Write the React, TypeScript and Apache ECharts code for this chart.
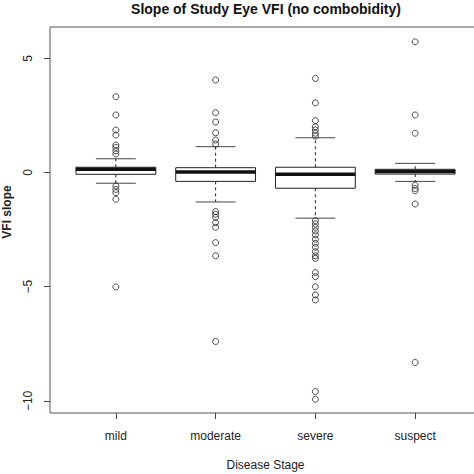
import { useEffect, useRef } from "react";
import * as echarts from "echarts";

const categories = ["mild", "moderate", "severe", "suspect"];
const lowerWhisker = [-0.47, -1.29, -2.0, -0.39];
const q1 = [-0.08, -0.39, -0.69, -0.07];
const median = [0.14, 0.02, -0.08, 0.04];
const q3 = [0.23, 0.21, 0.23, 0.14];
const upperWhisker = [0.6, 1.13, 1.52, 0.4];

const mildOutliers = [3.32, 2.52, 1.86, 1.64, 1.2, 1.1, 0.95, 0.81, -0.59, -0.74, -0.88, -1.17, -5.01];
const moderateOutliers = [4.05, 2.62, 2.21, 1.74, 1.42, 1.25, -1.71, -1.83, -1.96, -2.2, -2.4, -3.07, -3.65, -7.4];
const severeOutliers = [
  4.12, 3.05, 2.27, 2.0, 1.86, 1.72, 1.6, -2.11, -2.25, -2.4, -2.56, -2.73, -2.92, -3.1, -3.27, -3.47,
  -3.65, -3.76, -4.38, -4.56, -5.0, -5.36, -5.58, -9.59, -9.93,
];
const suspectOutliers = [5.72, 2.52, 1.72, -0.55, -0.7, -0.8, -1.38, -8.32];

const yTicks = [-10, -5, 0, 5];
const xTicks = [1, 2, 3, 4];

const FONT = "'Liberation Sans', Arial, sans-serif";
// R pads the x range 0.5..4.5 by 4%; the right side of the frame falls outside the picture
const X_MIN = 0.34;
const X_MAX = 4.66;

export default function App() {
  const chartRef = useRef<HTMLDivElement>(null);

  useEffect(() => {
    if (!chartRef.current) return;
    const chart = echarts.init(chartRef.current, undefined, { renderer: "svg" });

    // box stats: [x, low, q1, median, q3, high]
    const boxData = categories.map((_, i) => [
      i + 1,
      lowerWhisker[i],
      q1[i],
      median[i],
      q3[i],
      upperWhisker[i],
    ]);

    const outlierData: number[][] = [];
    [mildOutliers, moderateOutliers, severeOutliers, suspectOutliers].forEach((list, i) => {
      list.forEach((v) => outlierData.push([i + 1, v]));
    });

    const renderBox = (params: any, api: any) => {
      const x = api.value(0);
      const pLow = api.coord([x, api.value(1)]);
      const pQ1 = api.coord([x, api.value(2)]);
      const pMed = api.coord([x, api.value(3)]);
      const pQ3 = api.coord([x, api.value(4)]);
      const pHigh = api.coord([x, api.value(5)]);
      const half = api.size([0.8, 0])[0] / 2;
      const cap = half / 2;
      const cx = pMed[0];
      const stroke = "#222";
      return {
        type: "group",
        children: [
          {
            type: "line",
            shape: { x1: cx, y1: pQ3[1], x2: cx, y2: pHigh[1] },
            style: { stroke, lineWidth: 1, lineDash: [3, 3] },
          },
          {
            type: "line",
            shape: { x1: cx, y1: pQ1[1], x2: cx, y2: pLow[1] },
            style: { stroke, lineWidth: 1, lineDash: [3, 3] },
          },
          {
            type: "line",
            shape: { x1: cx - cap, y1: pHigh[1], x2: cx + cap, y2: pHigh[1] },
            style: { stroke: "#444", lineWidth: 1 },
          },
          {
            type: "line",
            shape: { x1: cx - cap, y1: pLow[1], x2: cx + cap, y2: pLow[1] },
            style: { stroke: "#444", lineWidth: 1 },
          },
          {
            type: "rect",
            shape: { x: cx - half, y: pQ3[1], width: half * 2, height: pQ1[1] - pQ3[1] },
            style: { fill: "#fff", stroke, lineWidth: 1 },
          },
          {
            type: "line",
            shape: { x1: cx - half, y1: pMed[1], x2: cx + half, y2: pMed[1] },
            style: { stroke: "#111", lineWidth: 3.5 },
          },
        ],
      };
    };

    chart.setOption({
      animation: false,
      backgroundColor: "#fff",
      textStyle: { fontFamily: FONT },
      title: {
        text: "Slope of Study Eye VFI (no combobidity)",
        left: 266,
        top: 2,
        padding: 0,
        textAlign: "center",
        textStyle: { fontSize: 14, fontWeight: "bold", color: "#111", fontFamily: FONT },
      },
      grid: {
        show: true,
        left: 50,
        top: 27,
        width: 431,
        height: 386,
        borderColor: "#555",
        borderWidth: 1,
        backgroundColor: "transparent",
        outerBoundsMode: "none",
        containLabel: false,
      },
      xAxis: {
        type: "value",
        min: X_MIN,
        max: X_MAX,
        splitLine: { show: false },
        axisLine: { show: false, onZero: false },
        axisTick: {
          show: true,
          length: 6,
          customValues: xTicks,
          lineStyle: { color: "#444" },
        },
        axisLabel: {
          customValues: xTicks,
          formatter: (v: number) => categories[Math.round(v) - 1] ?? "",
          fontSize: 12,
          color: "#222",
          margin: 17,
          fontFamily: FONT,
        },
        name: "Disease Stage",
        nameLocation: "middle",
        nameGap: 46,
        nameTextStyle: { fontSize: 12, color: "#222", fontFamily: FONT },
      },
      yAxis: {
        type: "value",
        min: -10.53,
        max: 6.37,
        splitLine: { show: false },
        axisLine: { show: false, onZero: false },
        axisTick: {
          show: true,
          length: 6,
          customValues: yTicks,
          lineStyle: { color: "#444" },
        },
        axisLabel: {
          customValues: yTicks,
          rotate: 90,
          fontSize: 12,
          color: "#222",
          margin: 16,
          fontFamily: FONT,
          formatter: (v: number) => String(v).replace("-", "\u2212"),
        },
      },
      graphic: [
        {
          type: "text",
          x: 7,
          y: 212,
          rotation: Math.PI / 2,
          style: {
            text: "VFI slope",
            fontSize: 12,
            fontWeight: "bold",
            fontFamily: FONT,
            fill: "#222",
            textAlign: "center",
            textVerticalAlign: "middle",
          },
        },
      ],
      series: [
        {
          type: "custom",
          renderItem: renderBox,
          data: boxData,
          encode: { x: 0, y: [1, 2, 3, 4, 5] },
          z: 2,
        },
        {
          type: "scatter",
          data: outlierData,
          symbol: "circle",
          symbolSize: 6,
          itemStyle: { color: "transparent", borderColor: "#222", borderWidth: 1 },
          z: 3,
        },
      ],
    });

    return () => chart.dispose();
  }, []);

  return (
    <div
      ref={chartRef}
      style={{ position: "fixed", left: 0, top: 0, width: 474, height: 474 }}
    />
  );
}
